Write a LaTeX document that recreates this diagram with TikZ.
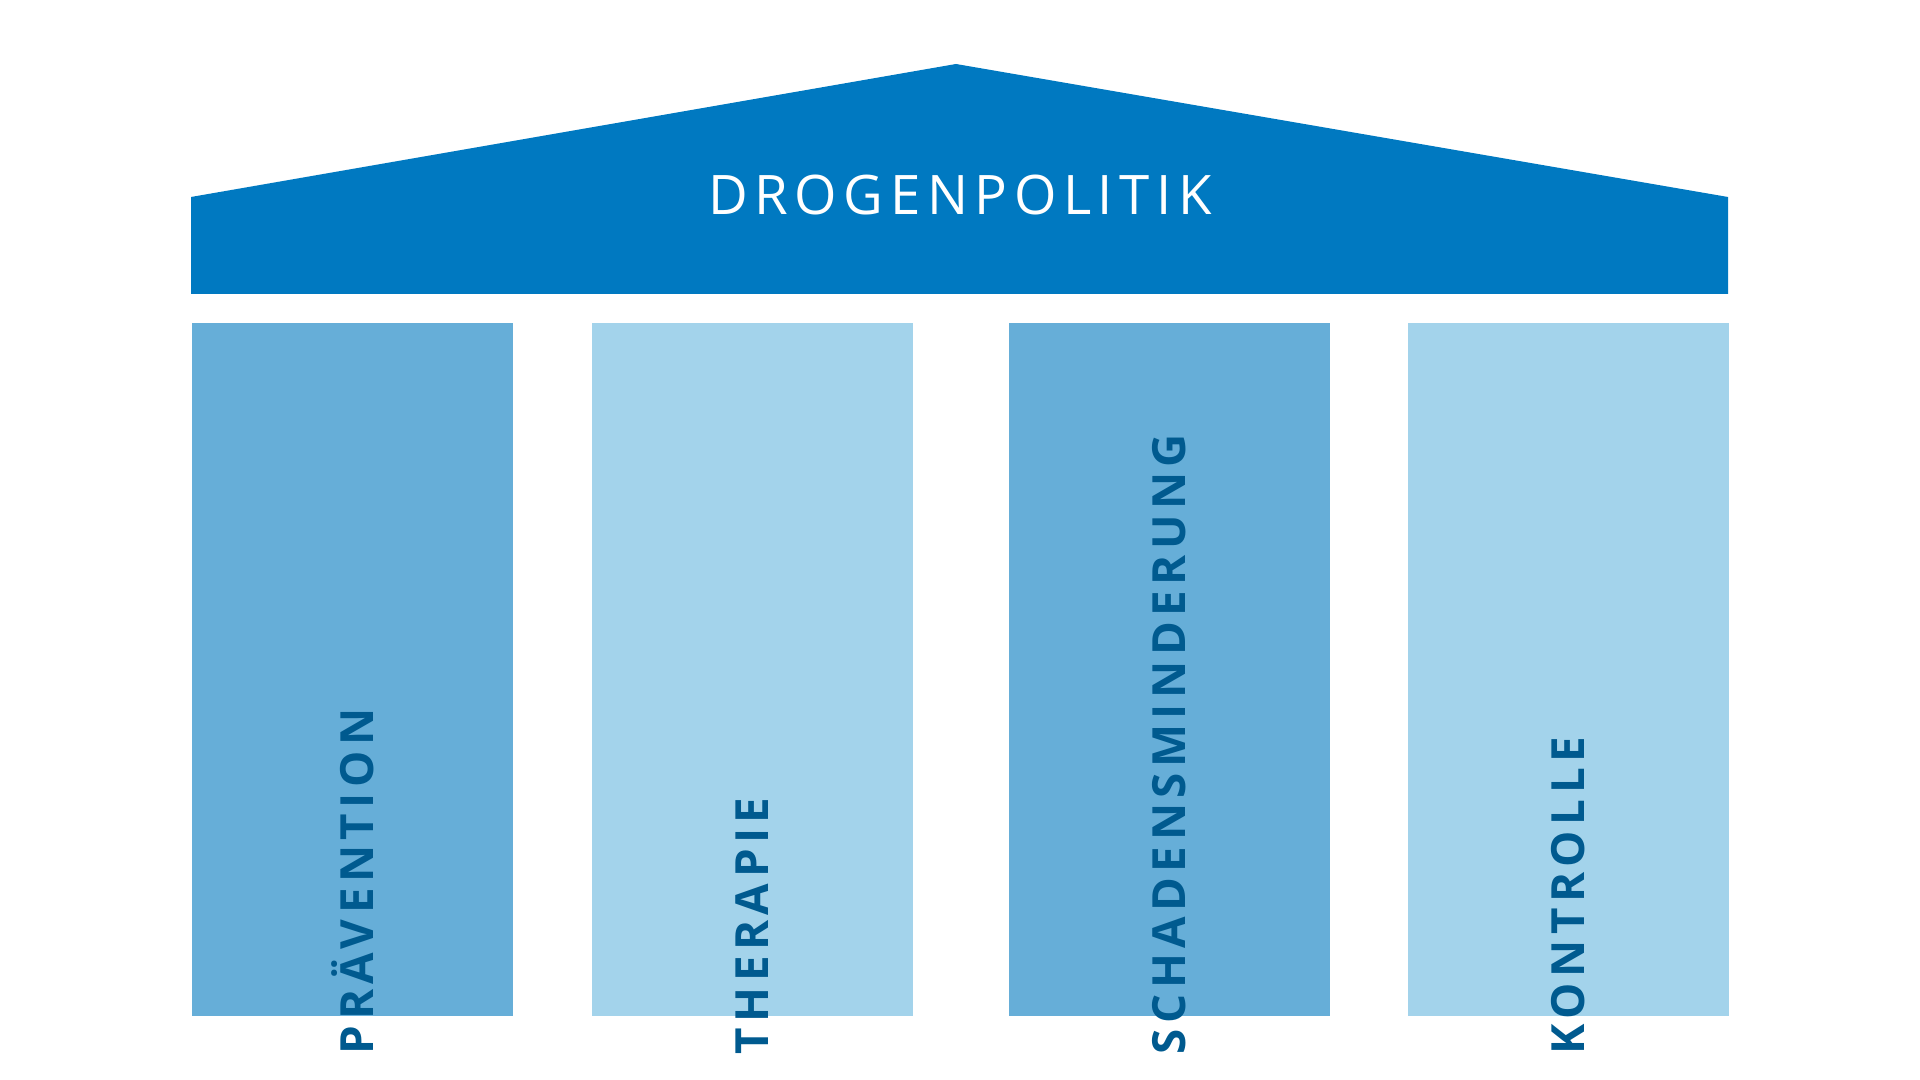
\documentclass[tikz,border=0pt]{standalone}
\usepackage{fontspec}
\setmainfont{Open Sans}[LetterSpace=12]
\usetikzlibrary{positioning}
\definecolor{roofblue}{HTML}{0079C1}
\definecolor{pillardark}{HTML}{66AED8}
\definecolor{pillarlight}{HTML}{A3D3EB}
\definecolor{textblue}{HTML}{005A8F}
\tikzstyle{pillar}=[rectangle, minimum width=3.21cm, minimum height=6.93cm, anchor=north west, inner sep=0pt]
\tikzstyle{pillartext}=[rotate=90, anchor=west, text=textblue, font=\fontsize{13}{15}\selectfont\bfseries, inner sep=0pt]
\begin{document}
\begin{tikzpicture}[x=0.01cm,y=-0.01cm]
\useasboundingbox (0,0) rectangle (1920,1080);

% roof
\fill[roofblue] (191,197) -- (956,64) -- (1728,197) -- (1728,294) -- (191,294) -- cycle;
\node[text=white, font=\fontsize{15.5}{18}\selectfont] (roof) at (960,195) {DROGENPOLITIK};

% pillars
\node[pillar, fill=pillardark] (p1) at (191,322) {};
\node[pillar, fill=pillarlight] (p2) at (591,322) {};
\node[pillar, fill=pillardark] (p3) at (1008,322) {};
\node[pillar, fill=pillarlight] (p4) at (1407,322) {};

\node[pillartext] at ([yshift=-0.38cm]p1.south) {PRÄVENTION};
\node[pillartext] at ([yshift=-0.38cm]p2.south) {THERAPIE};
\node[pillartext] at ([yshift=-0.38cm]p3.south) {SCHADENSMINDERUNG};
\node[pillartext] at ([yshift=-0.38cm]p4.south) {KONTROLLE};

\end{tikzpicture}
\end{document}
